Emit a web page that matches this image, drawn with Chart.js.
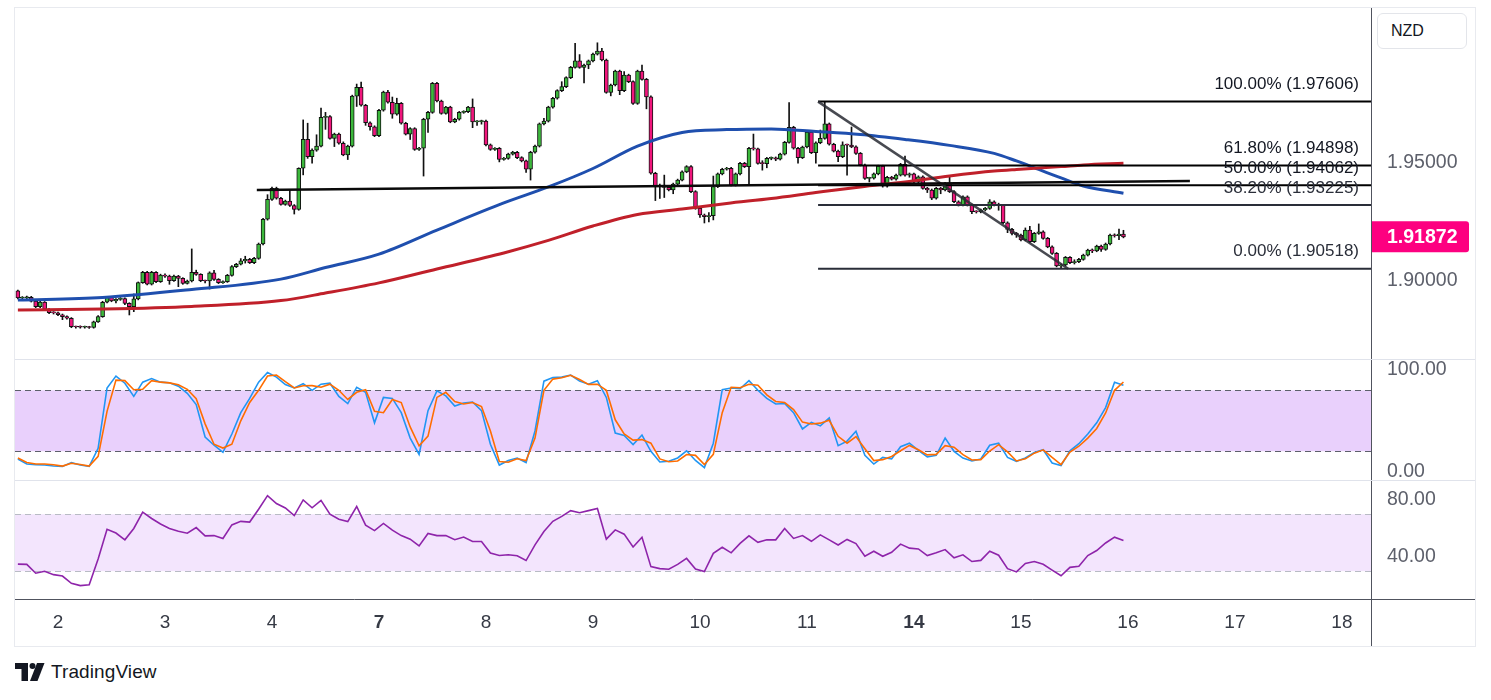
<!DOCTYPE html>
<html>
<head>
<meta charset="utf-8">
<script src="https://cdn.jsdelivr.net/npm/chart.js@4.4.1/dist/chart.umd.min.js"></script>
<style>
  body { margin: 0; background: #fff; width: 1491px; height: 700px; overflow: hidden; font-family: "Liberation Sans", Arial, sans-serif; }
  canvas { position: absolute; left: 15px; }
  .line { position: absolute; }
  #frame { position: absolute; left: 14px; top: 7px; width: 1460px; height: 638px; border: 1px solid #e8eaef; }
  #nzd { position: absolute; left: 1377px; top: 13px; width: 90px; height: 36px; border: 1px solid #e3e5ea; border-radius: 6px;
         box-sizing: border-box; font-size: 16px; color: #131722; line-height: 34px; padding-left: 13px; background: #fff; }
  #logo { position: absolute; left: 15px; top: 660px; height: 24px; display: flex; align-items: center; }
  #logo span { font-size: 19px; color: #131722; margin-left: 6px; letter-spacing: 0.1px; }
</style>
</head>
<body>
<div id="frame"></div>
<canvas id="cPrice" width="1461" height="351" style="top:8px"></canvas>
<canvas id="cStoch" width="1461" height="120" style="top:360px"></canvas>
<canvas id="cRsi" width="1461" height="165" style="top:481px"></canvas>
<div class="line" style="left:15px;top:359px;width:1460px;height:1px;background:#e0e3eb"></div>
<div class="line" style="left:15px;top:480px;width:1460px;height:1px;background:#e0e3eb"></div>
<div class="line" style="left:1371px;top:599px;width:104px;height:1px;background:#50535e"></div>
<div class="line" style="left:1371px;top:599px;width:1px;height:47px;background:#50535e"></div>
<div id="nzd">NZD</div>
<div id="logo">
  <svg width="30" height="18" viewBox="0 0 30 18">
    <path d="M0 0 H13 V18 H6.5 V6 H0 Z" fill="#131722"/>
    <circle cx="17.5" cy="3" r="3" fill="#131722"/>
    <path d="M22 0 H29.5 L22.5 18 H15 Z" fill="#131722"/>
  </svg>
  <span>TradingView</span>
</div>
<script>
// hourly candles, index 0 = first hour of day "2"
const dayTicks = [0, 24, 48, 72, 96, 120, 144, 168, 192, 216, 240, 264, 288];
const dayLabels = ['2', '3', '4', '7', '8', '9', '10', '11', '14', '15', '16', '17', '18'];
const weekStarts = ['7', '14'];

const firstIndex = -9;
const firstOpen = 1.8958;
const closes = [
  1.8928, 1.8929, 1.8931, 1.8915, 1.8891, 1.8911, 1.8880, 1.8866, 1.8865, 1.8857,
  1.8849, 1.8842, 1.8806, 1.8805, 1.8804, 1.8804, 1.8803, 1.8827, 1.8849, 1.8910,
  1.8931, 1.8916, 1.8922, 1.8926, 1.8905, 1.8891, 1.8924, 1.8993, 1.9037, 1.8987,
  1.9037, 1.8997, 1.9025, 1.9021, 1.9001, 1.9021, 1.9011, 1.8990, 1.9000, 1.9037,
  1.9028, 1.9001, 1.9000, 1.9035, 1.9007, 1.8993, 1.8997, 1.9024, 1.9061, 1.9071,
  1.9085, 1.9092, 1.9078, 1.9096, 1.9157, 1.9262, 1.9346, 1.9393, 1.9351, 1.9325,
  1.9339, 1.9320, 1.9304, 1.9478, 1.9601, 1.9527, 1.9555, 1.9572, 1.9694, 1.9697,
  1.9605, 1.9623, 1.9584, 1.9535, 1.9572, 1.9784, 1.9821, 1.9745, 1.9671, 1.9654,
  1.9616, 1.9724, 1.9801, 1.9758, 1.9707, 1.9753, 1.9669, 1.9623, 1.9646, 1.9558,
  1.9563, 1.9686, 1.9715, 1.9838, 1.9763, 1.9711, 1.9737, 1.9675, 1.9686, 1.9715,
  1.9718, 1.9737, 1.9675, 1.9676, 1.9678, 1.9577, 1.9558, 1.9562, 1.9516, 1.9520,
  1.9538, 1.9546, 1.9523, 1.9509, 1.9474, 1.9546, 1.9572, 1.9666, 1.9678, 1.9737,
  1.9775, 1.9807, 1.9824, 1.9862, 1.9906, 1.9933, 1.9906, 1.9916, 1.9933, 1.9962,
  1.9975, 1.9937, 1.9800, 1.9831, 1.9890, 1.9807, 1.9873, 1.9845, 1.9753, 1.9890,
  1.9855, 1.9781, 1.9457, 1.9400, 1.9407, 1.9397, 1.9386, 1.9411, 1.9428, 1.9463,
  1.9485, 1.9379, 1.9308, 1.9280, 1.9273, 1.9277, 1.9400, 1.9454, 1.9474, 1.9478,
  1.9407, 1.9454, 1.9499, 1.9485, 1.9563, 1.9560, 1.9499, 1.9498, 1.9520, 1.9522,
  1.9517, 1.9538, 1.9588, 1.9652, 1.9563, 1.9523, 1.9568, 1.9631, 1.9544, 1.9586,
  1.9605, 1.9666, 1.9580, 1.9551, 1.9527, 1.9577, 1.9576, 1.9569, 1.9541, 1.9492,
  1.9435, 1.9436, 1.9454, 1.9487, 1.9402, 1.9440, 1.9432, 1.9449, 1.9495, 1.9449,
  1.9454, 1.9421, 1.9442, 1.9393, 1.9386, 1.9351, 1.9393, 1.9386, 1.9414, 1.9379,
  1.9336, 1.9322, 1.9357, 1.9322, 1.9294, 1.9293, 1.9301, 1.9308, 1.9336, 1.9322,
  1.9321, 1.9247, 1.9219, 1.9202, 1.9195, 1.9174, 1.9216, 1.9167, 1.9202, 1.9209,
  1.9181, 1.9145, 1.9117, 1.9064, 1.9068, 1.9100, 1.9078, 1.9082, 1.9092, 1.9110,
  1.9131, 1.9128, 1.9148, 1.9134, 1.9157, 1.9195, 1.9192, 1.9199, 1.91872
];
const highs = [
  1.8962, 1.8934, 1.8936, 1.8935, 1.8918, 1.8914, 1.8913, 1.8883, 1.8870, 1.8868,
  1.8860, 1.8852, 1.8845, 1.8809, 1.8810, 1.8809, 1.8808, 1.8830, 1.8853, 1.8914,
  1.8935, 1.8934, 1.8926, 1.8930, 1.8929, 1.8908, 1.8945, 1.8996, 1.9041, 1.9041,
  1.9041, 1.9040, 1.9029, 1.9030, 1.9025, 1.9025, 1.9024, 1.9014, 1.9004, 1.9136,
  1.9046, 1.9031, 1.9004, 1.9039, 1.9045, 1.9010, 1.9001, 1.9028, 1.9065, 1.9075,
  1.9095, 1.9105, 1.9096, 1.9100, 1.9161, 1.9266, 1.9366, 1.9398, 1.9398, 1.9355,
  1.9343, 1.9385, 1.9324, 1.9480, 1.9683, 1.9669, 1.9560, 1.9620, 1.9733, 1.9715,
  1.9701, 1.9627, 1.9627, 1.9590, 1.9576, 1.9788, 1.9835, 1.9843, 1.9749, 1.9675,
  1.9658, 1.9728, 1.9805, 1.9808, 1.9780, 1.9775, 1.9757, 1.9673, 1.9650, 1.9650,
  1.9567, 1.9690, 1.9719, 1.9842, 1.9842, 1.9767, 1.9741, 1.9741, 1.9690, 1.9719,
  1.9722, 1.9741, 1.9772, 1.9680, 1.9682, 1.9682, 1.9581, 1.9566, 1.9566, 1.9524,
  1.9542, 1.9550, 1.9550, 1.9527, 1.9513, 1.9550, 1.9576, 1.9670, 1.9690, 1.9741,
  1.9779, 1.9811, 1.9845, 1.9866, 1.9910, 2.0008, 1.9960, 1.9920, 1.9937, 1.9966,
  2.0010, 1.9987, 1.9941, 1.9835, 1.9894, 1.9894, 1.9888, 1.9877, 1.9849, 1.9894,
  1.9916, 1.9859, 1.9785, 1.9461, 1.9411, 1.9449, 1.9401, 1.9415, 1.9432, 1.9467,
  1.9489, 1.9489, 1.9383, 1.9312, 1.9284, 1.9290, 1.9445, 1.9458, 1.9478, 1.9482,
  1.9482, 1.9458, 1.9503, 1.9503, 1.9567, 1.9623, 1.9564, 1.9510, 1.9524, 1.9526,
  1.9526, 1.9542, 1.9592, 1.9757, 1.9656, 1.9567, 1.9572, 1.9635, 1.9635, 1.9590,
  1.9640, 1.97606, 1.9670, 1.9584, 1.9555, 1.9590, 1.9581, 1.9653, 1.9573, 1.9545,
  1.9496, 1.9440, 1.9458, 1.9491, 1.9491, 1.9444, 1.9444, 1.9453, 1.9499, 1.9530,
  1.9458, 1.9458, 1.9446, 1.9446, 1.9397, 1.9390, 1.9397, 1.9397, 1.9418, 1.9442,
  1.9383, 1.9340, 1.9361, 1.9361, 1.9326, 1.9298, 1.9305, 1.9312, 1.9345, 1.9340,
  1.9330, 1.9325, 1.9251, 1.9223, 1.9206, 1.9199, 1.9225, 1.9232, 1.9206, 1.9242,
  1.9213, 1.9185, 1.9149, 1.9121, 1.9072, 1.9104, 1.9104, 1.9090, 1.9096, 1.9114,
  1.9135, 1.9136, 1.9152, 1.9152, 1.9161, 1.9199, 1.9200, 1.9220, 1.9215
];
const lows = [
  1.8924, 1.8922, 1.8925, 1.8911, 1.8887, 1.8887, 1.8876, 1.8862, 1.8860, 1.8853,
  1.8836, 1.8838, 1.8802, 1.8800, 1.8800, 1.8800, 1.8799, 1.8800, 1.8824, 1.8846,
  1.8907, 1.8912, 1.8907, 1.8918, 1.8900, 1.8856, 1.8870, 1.8920, 1.8990, 1.8983,
  1.8983, 1.8993, 1.8994, 1.9015, 1.8986, 1.8998, 1.8976, 1.8986, 1.8987, 1.8996,
  1.9024, 1.8997, 1.8992, 1.8966, 1.9003, 1.8989, 1.8990, 1.8994, 1.9020, 1.9057,
  1.9068, 1.9076, 1.9074, 1.9074, 1.9092, 1.9153, 1.9258, 1.9342, 1.9347, 1.9321,
  1.9321, 1.9316, 1.9284, 1.9300, 1.9450, 1.9520, 1.9500, 1.9550, 1.9568, 1.9643,
  1.9601, 1.9570, 1.9580, 1.9531, 1.9515, 1.9568, 1.9740, 1.9741, 1.9660, 1.9640,
  1.9612, 1.9612, 1.9720, 1.9754, 1.9690, 1.9703, 1.9665, 1.9619, 1.9600, 1.9554,
  1.9554, 1.9445, 1.9630, 1.9711, 1.9759, 1.9707, 1.9707, 1.9671, 1.9671, 1.9682,
  1.9711, 1.9714, 1.9650, 1.9660, 1.9665, 1.9573, 1.9554, 1.9554, 1.9505, 1.9512,
  1.9516, 1.9534, 1.9519, 1.9505, 1.9460, 1.9428, 1.9542, 1.9568, 1.9662, 1.9674,
  1.9733, 1.9771, 1.9803, 1.9820, 1.9858, 1.9902, 1.9902, 1.9840, 1.9900, 1.9929,
  1.9958, 1.9933, 1.9796, 1.9785, 1.9827, 1.9790, 1.9803, 1.9841, 1.9749, 1.9749,
  1.9851, 1.9730, 1.9453, 1.9341, 1.9350, 1.9354, 1.9382, 1.9370, 1.9407, 1.9424,
  1.9459, 1.9375, 1.9304, 1.9270, 1.9246, 1.9250, 1.9259, 1.9396, 1.9450, 1.9470,
  1.9403, 1.9403, 1.9450, 1.9481, 1.9410, 1.9555, 1.9495, 1.9470, 1.9480, 1.9514,
  1.9510, 1.9513, 1.9534, 1.9584, 1.9559, 1.9500, 1.9519, 1.9564, 1.9540, 1.9500,
  1.9582, 1.9601, 1.9576, 1.9547, 1.9506, 1.9523, 1.9449, 1.9565, 1.9537, 1.9488,
  1.9431, 1.9420, 1.9432, 1.9450, 1.9398, 1.9398, 1.9428, 1.9428, 1.9445, 1.9445,
  1.9440, 1.9417, 1.9417, 1.9389, 1.9375, 1.9345, 1.9347, 1.9370, 1.9382, 1.9375,
  1.9332, 1.9318, 1.9318, 1.9318, 1.9285, 1.9288, 1.9289, 1.9297, 1.9304, 1.9318,
  1.9300, 1.9243, 1.9205, 1.9195, 1.9185, 1.9170, 1.9170, 1.9163, 1.9163, 1.9198,
  1.9177, 1.9141, 1.9113, 1.9060, 1.90518, 1.9064, 1.9074, 1.9072, 1.9078, 1.9088,
  1.9106, 1.9120, 1.9124, 1.9125, 1.9130, 1.9153, 1.9186, 1.9175, 1.9183
];

// moving averages, read at a few candle positions
const maIndex = [-9, 10, 30, 50, 60, 72, 85, 100, 110, 120, 130, 140, 150, 160, 170, 180, 190, 200, 210, 215, 220, 225, 230, 239];
const maBlue = [1.8919, 1.8930, 1.8964, 1.9008, 1.9057, 1.9114, 1.9216, 1.9331, 1.9399, 1.9477, 1.9572, 1.9630,
                1.9642, 1.9645, 1.9634, 1.9621, 1.9600, 1.9575, 1.9541, 1.9509, 1.9473, 1.9437, 1.9403, 1.9372];
const maRed = [1.8877, 1.8881, 1.8892, 1.8917, 1.8949, 1.8992, 1.9051, 1.9119, 1.9172, 1.9233, 1.9282, 1.9305,
               1.9329, 1.9350, 1.9375, 1.9399, 1.9420, 1.9445, 1.9466, 1.9473, 1.9479, 1.9485, 1.9492, 1.9499];

// oscillators, one value every 2 candles from index -9
const oscStart = -9;
const oscStep = 2;
const stochK = [
  12.5, 7.5, 6.9, 6.5, 5.5, 5.2, 8.9, 6.5, 5.2, 23, 82.3, 94, 87, 74, 88, 91.5, 88, 87.5, 84, 77,
  66, 34, 26, 19, 37, 58, 72, 88, 97.5, 93, 85.6, 82.3, 86.5, 80, 86, 87, 74, 67, 83, 78,
  48, 73, 72, 58, 33, 17, 60, 79.5, 74.5, 64.5, 67.5, 68.5, 60, 27, 6.5, 11, 13.4, 9, 40, 89, 92.5,
  93, 95, 89, 86, 89.5, 73, 38, 35.5, 26.6, 36, 20, 9.5, 10.2, 13.5, 20.5, 11, 4, 28, 80.7, 82.3,
  81.5, 89.5, 80, 72, 66.5, 67, 58, 42, 48.5, 45, 52.8, 25.5, 30, 39.7, 16, 7.5, 14, 12.5, 24.5, 28,
  21, 14.5, 16, 33, 20, 13.4, 10.5, 12.5, 26, 28, 14, 10.2, 13.4, 18.8, 21.5, 8.5, 6, 20.5, 27.5, 37,
  48, 63, 88, 85
];
const stochD = [
  13.4, 9, 7.5, 7.5, 6.8, 5.5, 8.3, 7, 5.5, 15, 59.3, 90, 89.5, 80.5, 81, 89.5, 88, 87.3, 85.5, 81,
  71.8, 47, 27, 23.2, 27, 50, 68, 80, 94, 95, 88.5, 82.3, 84.5, 84.6, 83, 86, 80, 71, 78, 80.5,
  59.3, 58, 71, 68, 44, 25.5, 35, 73, 78, 69, 66.5, 68, 64, 40, 10, 9.3, 12.7, 11, 33, 80, 91,
  92.3, 94.8, 90.6, 85.8, 86, 80, 51, 37, 31, 31.5, 28, 12.5, 9.8, 10.5, 16.8, 16, 7, 17, 58, 83,
  82.5, 86, 85, 75.5, 69, 68, 61, 48.7, 46.9, 47.7, 50.5, 34.8, 28, 34.5, 22.5, 10.9, 11.8, 15, 20.6, 25.8,
  21.6, 16.5, 17, 25.5, 24, 16.7, 11.5, 11.8, 20.3, 26.5, 19.5, 10.5, 12.6, 18.2, 21.5, 14, 7, 19.3, 25, 33,
  42.5, 57.7, 80, 88.2
];
const rsi = [
  35, 34.8, 28.6, 30, 27.6, 26.6, 21.5, 19.9, 20.5, 38.5, 59.4, 56.8, 52, 60, 71.5, 67, 63.1, 60, 58, 56.7,
  60.6, 54.8, 55, 53, 62.5, 65, 64.5, 73.5, 83, 77.5, 74.4, 69, 80, 74.5, 79.7, 70, 66.5, 64.8, 75.4, 62.3,
  58.5, 63.5, 58.8, 55, 52.5, 47.8, 56.5, 55, 55, 52.1, 54, 50.9, 50.9, 42.8, 41, 41.5, 40.9, 37.5, 48.5, 57.8, 65,
  68.5, 72.5, 71, 72.5, 74, 52.5, 59, 56, 47, 53.8, 33.2, 31.8, 31.4, 34.8, 39, 31.5, 29.8, 42.5, 46.8, 42.9,
  49.5, 54.8, 50.3, 52.1, 52, 60, 53, 55, 51, 55.5, 52, 48.4, 52.3, 49.4, 40.6, 44, 40.5, 43.3, 49, 46.2,
  45.6, 41, 42.9, 45.2, 39.4, 41.5, 36.8, 37.6, 44, 41.2, 31.8, 29.5, 35.5, 36.8, 34.9, 30.8, 26.8, 32.7, 33.5, 41,
  44.5, 49.8, 53.9, 51.6
];

// drawings
const fibLevels = [1.97606, 1.94898, 1.94062, 1.93225, 1.90518];
const fibNames = ['100.00%', '61.80%', '50.00%', '38.20%', '0.00%'];
const fibColors = ['#000000', '#000000', '#000000', '#2a2e39', '#2a2e39'];
const fibStart = 170.5;
const supportLine = [[44.6, 1.93858], [253.9, 1.9424]];
const trendLine = [[170.5, 1.97606], [226.6, 1.90518]];

const priceTicks = [1.90, 1.95];
const stochTicks = [0, 100];
const rsiTicks = [40, 80];
const stochBand = [20, 80];
const rsiBand = [30, 70];
const lastPrice = 1.91872;

const FONT = '"Liberation Sans", Arial, sans-serif';
const UP = '#3cb83c';
const DOWN = '#f0167c';
const X_MIN = -9.646, X_MAX = 294.53;

const candleX = closes.map((c, k) => firstIndex + k);
const opens = closes.map((c, k) => (k === 0 ? firstOpen : closes[k - 1]));
const oscX = stochK.map((v, k) => oscStart + k * oscStep);
const pts = (xs, ys) => xs.map((x, k) => ({ x: x, y: ys[k] }));

function xScale(show) {
  return {
    type: 'linear', min: X_MIN, max: X_MAX, offset: false, display: show,
    grid: { display: false, drawTicks: false },
    border: { display: show, color: '#50535e' },
    afterBuildTicks: s => { s.ticks = dayTicks.map(v => ({ value: v })); },
    afterFit: s => { s.height = show ? 47 : 0; s.paddingLeft = 0; s.paddingRight = 0; },
    ticks: {
      display: show, autoSkip: false, maxRotation: 0, padding: 12, color: '#363a45',
      callback: v => dayLabels[dayTicks.indexOf(v)],
      font: c => ({ family: FONT, size: 19, weight: weekStarts.includes(c.tick && c.tick.label) ? 'bold' : 'normal' })
    }
  };
}
function yScale(min, max, ticks, digits) {
  return {
    position: 'right', min: min, max: max,
    grid: { display: false, drawTicks: false },
    border: { display: true, color: '#50535e' },
    afterBuildTicks: s => { s.ticks = ticks.map(v => ({ value: v })); },
    afterFit: s => { s.width = 105; s.paddingTop = 0; s.paddingBottom = 0; },
    ticks: { padding: 16, color: '#5d606b', font: { family: FONT, size: 19.5 }, callback: v => v.toFixed(digits) }
  };
}
function baseOptions(scales) {
  return {
    responsive: false, animation: false, events: [],
    layout: { padding: 0 },
    plugins: { legend: { display: false }, tooltip: { enabled: false } },
    scales: scales
  };
}
function lineSet(data, color, width, order, extra) {
  return Object.assign({ type: 'line', data: data, borderColor: color, borderWidth: width, pointRadius: 0,
                         fill: false, order: order }, extra || {});
}

// band + dashed guide lines for oscillator panes
function bandPlugin(band, fillColor, dashColor) {
  return {
    id: 'band',
    beforeDatasetsDraw(chart) {
      const { ctx, chartArea: a, scales: { y } } = chart;
      const top = y.getPixelForValue(band[1]), bot = y.getPixelForValue(band[0]);
      ctx.save();
      ctx.fillStyle = fillColor;
      ctx.fillRect(a.left, top, a.right - a.left, bot - top);
      ctx.strokeStyle = dashColor;
      ctx.lineWidth = 1;
      ctx.setLineDash([6, 4]);
      [top, bot].forEach(p => {
        ctx.beginPath();
        ctx.moveTo(a.left, Math.round(p) + 0.5);
        ctx.lineTo(a.right, Math.round(p) + 0.5);
        ctx.stroke();
      });
      ctx.restore();
    }
  };
}

const fibLabelPlugin = {
  id: 'fibLabels',
  afterDatasetsDraw(chart) {
    const { ctx, chartArea: a, scales: { y } } = chart;
    ctx.save();
    ctx.font = '17px ' + FONT;
    ctx.textAlign = 'right';
    ctx.textBaseline = 'middle';
    fibLevels.forEach((lvl, k) => {
      ctx.fillStyle = fibColors[k] === '#000000' ? '#131722' : '#2a2e39';
      ctx.fillText(fibNames[k] + ' (' + lvl.toFixed(5) + ')', a.right - 12, y.getPixelForValue(lvl) - 17);
    });
    ctx.restore();
  }
};

const priceLabelPlugin = {
  id: 'lastPrice',
  afterDraw(chart) {
    const { ctx, chartArea: a, scales: { y } } = chart;
    const p = y.getPixelForValue(lastPrice);
    ctx.save();
    ctx.fillStyle = '#fd0080';
    ctx.beginPath();
    ctx.roundRect(a.right + 1, p - 15.5, 97, 31, [0, 3, 3, 0]);
    ctx.fill();
    ctx.fillStyle = '#ffffff';
    ctx.font = 'bold 19.5px ' + FONT;
    ctx.textAlign = 'left';
    ctx.textBaseline = 'middle';
    ctx.fillText(lastPrice.toFixed(5), a.right + 16, p + 1);
    ctx.restore();
  }
};

// price pane
const priceSets = [
  {
    type: 'bar', data: pts(candleX, candleX.map((x, k) => [lows[k], highs[k]])),
    backgroundColor: '#111111', borderWidth: 0, barThickness: 1, grouped: false, order: 6
  },
  {
    type: 'bar', data: pts(candleX, candleX.map((x, k) => [opens[k], closes[k]])),
    backgroundColor: closes.map((c, k) => (c >= opens[k] ? UP : DOWN)),
    borderColor: '#111111', borderWidth: 1, borderSkipped: false, barThickness: 4, minBarLength: 1,
    grouped: false, order: 5
  },
  lineSet(pts(maIndex, maRed), '#c0202a', 3, 4, { tension: 0.4, cubicInterpolationMode: 'monotone' }),
  lineSet(pts(maIndex, maBlue), '#1f4fae', 3, 4, { tension: 0.4, cubicInterpolationMode: 'monotone' })
];
fibLevels.forEach((lvl, k) => {
  priceSets.push(lineSet([{ x: fibStart, y: lvl }, { x: X_MAX + 10, y: lvl }], fibColors[k], 2, 3));
});
priceSets.push(lineSet(supportLine.map(p => ({ x: p[0], y: p[1] })), '#0a0a0a', 2.6, 2));
priceSets.push(lineSet(trendLine.map(p => ({ x: p[0], y: p[1] })), 'rgba(40,42,50,0.85)', 2.6, 2));

new Chart(document.getElementById('cPrice'), {
  type: 'bar',
  data: { datasets: priceSets },
  options: baseOptions({ x: xScale(false), y: yScale(1.86693, 2.01575, priceTicks, 5) }),
  plugins: [fibLabelPlugin, priceLabelPlugin]
});

// stochastic pane
new Chart(document.getElementById('cStoch'), {
  type: 'line',
  data: {
    datasets: [
      lineSet(pts(oscX, stochK), '#2196f3', 1.6, 2),
      lineSet(pts(oscX, stochD), '#ff6d00', 1.6, 1)
    ]
  },
  options: baseOptions({ x: xScale(false), y: yScale(-8.2, 109.8, stochTicks, 2) }),
  plugins: [bandPlugin(stochBand, '#e9d0fc', '#5d606b')]
});

// RSI pane with time axis
new Chart(document.getElementById('cRsi'), {
  type: 'line',
  data: { datasets: [lineSet(pts(oscX, rsi), '#8e24aa', 1.6, 1)] },
  options: baseOptions({ x: xScale(true), y: yScale(10.5, 93.3, rsiTicks, 2) }),
  plugins: [bandPlugin(rsiBand, '#f3e5fd', '#b8bbc4')]
});
</script>
</body>
</html>
